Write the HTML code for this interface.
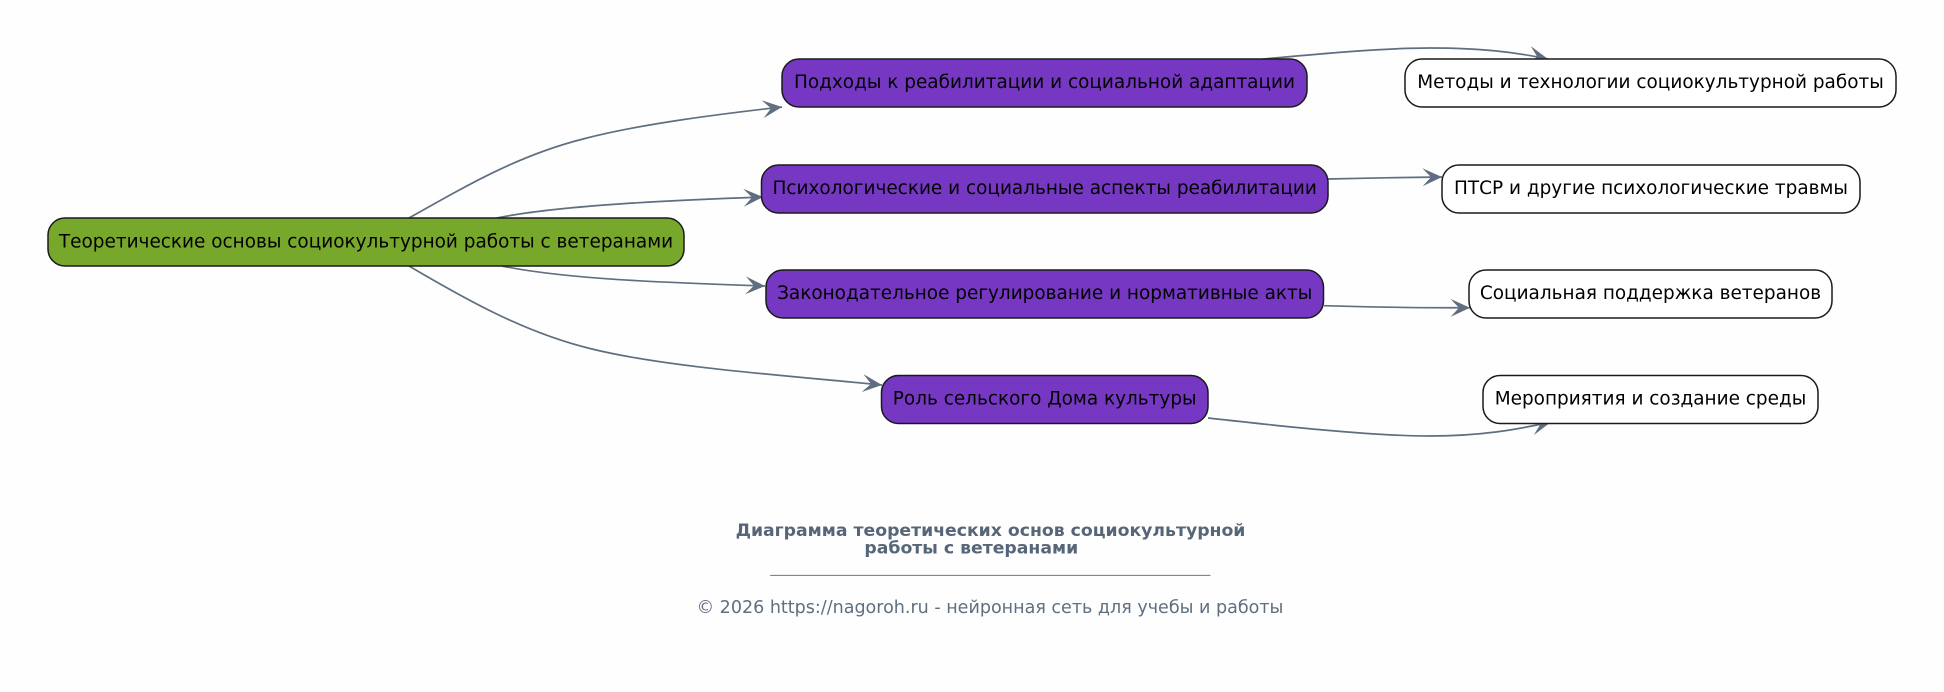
<!DOCTYPE html>
<html><head><meta charset="utf-8"><style>
html,body{margin:0;padding:0;background:#fefefe}
svg{display:block}
text{font-family:"DejaVu Sans",sans-serif}
.n{font-size:18.44px;fill:#000;text-anchor:middle}
.b{stroke:#1a1a1a;stroke-width:1.5}
.e{fill:none;stroke:#5f6f80;stroke-width:1.7}
.a{fill:#5f6f80;stroke:none}
</style></head><body>
<svg width="1944" height="692" viewBox="0 0 1944 692" xmlns="http://www.w3.org/2000/svg">
<defs><marker id="v" markerUnits="userSpaceOnUse" markerWidth="24" markerHeight="20" refX="22" refY="10" orient="auto" viewBox="0 0 24 20"><path class="a" d="M2.500,1 L22,10 L2.500,19 L11,10 Z"/></marker></defs>
<rect width="1944" height="692" fill="#fefefe"/>
<g>
<path class="e" marker-end="url(#v)" d="M409,218 C471,183 520,155 583,139 C640,124 720,114 782,107"/>
<path class="e" marker-end="url(#v)" d="M497,218 C560,205 680,200 763,197"/>
<path class="e" marker-end="url(#v)" d="M502,266 C570,280 680,283 765,286"/>
<path class="e" marker-end="url(#v)" d="M409,266 C465,299 525,333 592,349 C665,367 780,375 882,385"/>
<path class="e" marker-end="url(#v)" d="M1263,59 C1330,53 1385,48 1430,48 C1480,48 1515,52 1548,59"/>
<path class="e" marker-end="url(#v)" d="M1328,179 C1365,178 1405,177.500 1442,177"/>
<path class="e" marker-end="url(#v)" d="M1324,305.700 C1370,307 1420,308 1470,307.700"/>
<path class="e" marker-end="url(#v)" d="M1208,418 C1280,426 1370,436 1430,436 C1480,436 1515,430 1551,422"/>
</g>
<rect class="b" x="48" y="218" width="636" height="48" rx="17" fill="#78a82b"/>
<text class="n" x="366" y="247.500">Теоретические основы социокультурной работы с ветеранами</text>
<rect class="b" x="782" y="59" width="525" height="48" rx="17" fill="#7638c2"/>
<text class="n" x="1044.500" y="88">Подходы к реабилитации и социальной адаптации</text>
<rect class="b" x="761.500" y="165" width="566.500" height="48" rx="17" fill="#7638c2"/>
<text class="n" x="1044.700" y="194">Психологические и социальные аспекты реабилитации</text>
<rect class="b" x="766" y="270" width="557.500" height="48" rx="17" fill="#7638c2"/>
<text class="n" x="1044.700" y="299">Законодательное регулирование и нормативные акты</text>
<rect class="b" x="881.500" y="375.500" width="326.500" height="48" rx="17" fill="#7638c2"/>
<text class="n" x="1044.700" y="404.500">Роль сельского Дома культуры</text>
<rect class="b" x="1405" y="59" width="491" height="48" rx="17" fill="#fff"/>
<text class="n" x="1650.500" y="88">Методы и технологии социокультурной работы</text>
<rect class="b" x="1442" y="165" width="418" height="48" rx="17" fill="#fff"/>
<text class="n" x="1651" y="194">ПТСР и другие психологические травмы</text>
<rect class="b" x="1469" y="270" width="363" height="48" rx="17" fill="#fff"/>
<text class="n" x="1650.500" y="299">Социальная поддержка ветеранов</text>
<rect class="b" x="1483" y="375.500" width="335" height="48" rx="17" fill="#fff"/>
<text class="n" x="1650.500" y="404.500">Мероприятия и создание среды</text>
<text x="990.500" y="536" text-anchor="middle" font-size="17.260" font-weight="700" fill="#566577">Диаграмма теоретических основ социокультурной</text>
<text x="971.300" y="553.500" text-anchor="middle" font-size="17.260" font-weight="700" fill="#566577">работы с ветеранами</text>
<text x="990.300" y="572" text-anchor="middle" font-size="16" fill="#7a8896">_______________________________________________________</text>
<text x="990" y="613" text-anchor="middle" font-size="17.530" fill="#5f6f80">© 2026 https://nagoroh.ru - нейронная сеть для учебы и работы</text>
</svg>
</body></html>
